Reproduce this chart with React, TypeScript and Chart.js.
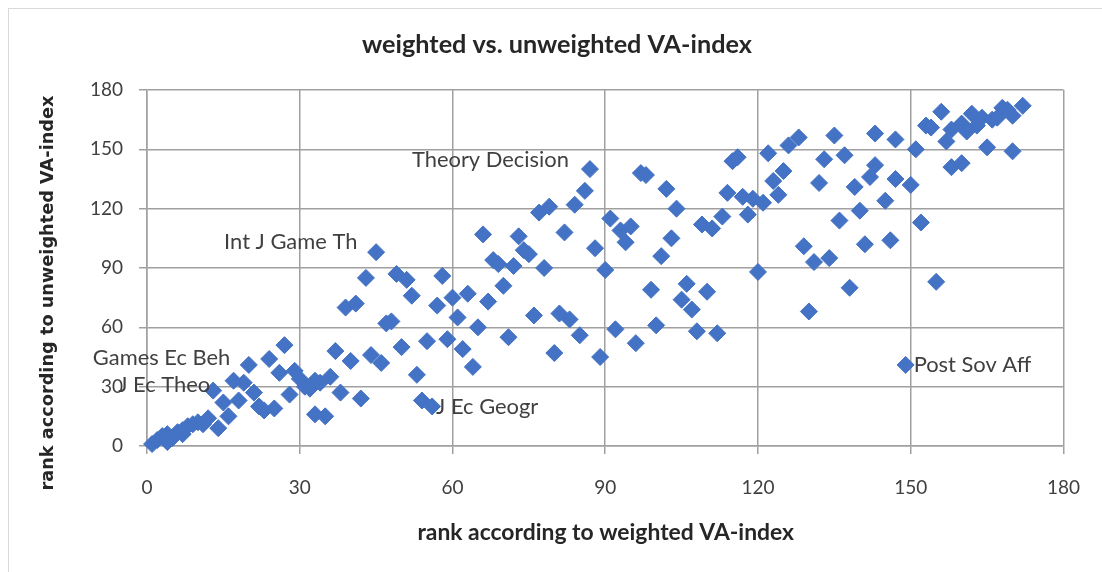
import React, { useEffect, useRef } from "react";
import { Chart, registerables } from "chart.js";

Chart.register(...registerables);

// rank according to weighted VA-index (x) and unweighted VA-index (y)
const weightedRank: number[] = [
  1, 2, 3, 4, 4, 5, 6, 7, 7, 8, 9, 10, 11, 12, 13, 14, 15, 16, 17, 18,
  19, 20, 21, 22, 23, 24, 25, 26, 27, 28, 29, 30, 31, 32, 33, 33, 34, 35, 36, 37,
  38, 39, 40, 41, 42, 43, 44, 45, 46, 47, 48, 49, 50, 51, 52, 53, 54, 55, 56, 57,
  58, 59, 60, 61, 62, 63, 64, 65, 66, 67, 68, 69, 70, 71, 72, 73, 74, 75, 76, 77,
  78, 79, 80, 81, 82, 83, 84, 85, 86, 87, 88, 89, 90, 91, 92, 93, 94, 95, 96, 97,
  98, 99, 100, 101, 102, 103, 104, 105, 106, 107, 108, 109, 110, 111, 112, 113, 114, 115, 116, 117,
  118, 119, 120, 121, 122, 123, 124, 125, 126, 128, 129, 130, 131, 132, 133, 134, 135, 136, 137, 138,
  139, 140, 141, 142, 143, 143, 145, 146, 147, 147, 149, 150, 151, 152, 153, 154, 155, 156, 157, 158,
  158, 160, 160, 161, 162, 163, 164, 165, 166, 167, 168, 169, 170, 170, 172,
];
const unweightedRank: number[] = [
  1, 3, 5, 2, 6, 4, 7, 6, 8, 10, 11, 12, 11, 14, 28, 9, 22, 15, 33, 23,
  32, 41, 27, 20, 18, 44, 19, 37, 51, 26, 38, 34, 30, 29, 16, 33, 32, 15, 35, 48,
  27, 70, 43, 72, 24, 85, 46, 98, 42, 62, 63, 87, 50, 84, 76, 36, 23, 53, 20, 71,
  86, 54, 75, 65, 49, 77, 40, 60, 107, 73, 94, 92, 81, 55, 91, 106, 99, 97, 66, 118,
  90, 121, 47, 67, 108, 64, 122, 56, 129, 140, 100, 45, 89, 115, 59, 109, 103, 111, 52, 138,
  137, 79, 61, 96, 130, 105, 120, 74, 82, 69, 58, 112, 78, 110, 57, 116, 128, 144, 146, 126,
  117, 125, 88, 123, 148, 134, 127, 139, 152, 156, 101, 68, 93, 133, 145, 95, 157, 114, 147, 80,
  131, 119, 102, 136, 142, 158, 124, 104, 135, 155, 41, 132, 150, 113, 162, 161, 83, 169, 154, 141,
  160, 143, 163, 159, 168, 162, 166, 151, 165, 166, 171, 170, 149, 167, 172,
];

const axisTicks: number[] = [0, 30, 60, 90, 120, 150, 180];

const titleText = "weighted vs. unweighted VA-index";
const xTitleText = "rank according to weighted VA-index";
const yTitleText = "rank according to unweighted VA-index";

// annotated journals: label text and the point (x, y) it belongs to
const labelTexts: string[] = ["Theory Decision", "Int J Game Th", "Games Ec Beh", "J Ec Theo", "J Ec Geogr", "Post Sov Aff"];
const labelPointX: number[] = [87, 45, 20, 13, 56, 149];
const labelPointY: number[] = [140, 98, 41, 28, 20, 41];

const BLUE = "#4472C4";
const GRID = "#a0a0a0";
const LABEL_FONT = "Lato, 'Open Sans', sans-serif";

function fitSize(ctx: CanvasRenderingContext2D, text: string, weight: string, family: string, target: number) {
  ctx.font = `${weight} 100px ${family}`;
  const w = ctx.measureText(text).width;
  return (100 * target) / w;
}

const textPlugin = {
  id: "textPlugin",
  beforeDraw(chart: any) {
    const ctx = chart.ctx as CanvasRenderingContext2D;
    ctx.save();
    ctx.fillStyle = "#ffffff";
    ctx.fillRect(0, 0, chart.width, chart.height);
    ctx.strokeStyle = "#d9d9d9";
    ctx.lineWidth = 1;
    ctx.strokeRect(8.5, 8.5, chart.width + 20, chart.height + 20);
    ctx.restore();
  },
  afterDatasetsDraw(chart: any) {
    const ctx = chart.ctx as CanvasRenderingContext2D;
    const xs = chart.scales.x;
    const ys = chart.scales.y;
    // pixel offsets of each label's left edge from its point
    const offsets = [
      { dx: -178, dy: -9 },
      { dx: -152, dy: -10 },
      { dx: -156, dy: -7 },
      { dx: -95, dy: -6 },
      { dx: 4, dy: 0 },
      { dx: 8, dy: 0 },
    ];
    ctx.save();
    const size = fitSize(ctx, labelTexts[0], "normal", LABEL_FONT, 157);
    ctx.fillStyle = "#404040";
    ctx.font = `${size}px ${LABEL_FONT}`;
    ctx.textBaseline = "middle";
    ctx.textAlign = "left";
    labelTexts.forEach((t, i) => {
      const px = xs.getPixelForValue(labelPointX[i]) + offsets[i].dx;
      const py = ys.getPixelForValue(labelPointY[i]) + offsets[i].dy;
      ctx.fillText(t, px, py);
    });
    ctx.restore();
  },
  afterDraw(chart: any) {
    const ctx = chart.ctx as CanvasRenderingContext2D;
    const area = chart.chartArea;
    ctx.save();
    ctx.fillStyle = "#262626";
    ctx.textAlign = "center";
    ctx.textBaseline = "middle";
    // title
    let s = fitSize(ctx, titleText, "bold", LABEL_FONT, 390);
    ctx.font = `bold ${s}px ${LABEL_FONT}`;
    ctx.fillText(titleText, 557, 45);
    // x axis title
    s = fitSize(ctx, xTitleText, "bold", LABEL_FONT, 377);
    ctx.font = `bold ${s}px ${LABEL_FONT}`;
    ctx.fillText(xTitleText, (area.left + area.right) / 2 + 0.5, 533);
    // y axis title
    const yf = "'DejaVu Sans', sans-serif";
    s = fitSize(ctx, yTitleText, "bold", yf, 395);
    ctx.font = `bold ${s}px ${yf}`;
    ctx.translate(48, 293);
    ctx.rotate(-Math.PI / 2);
    ctx.fillText(yTitleText, 0, 0);
    ctx.restore();
  },
};

export default function App() {
  const ref = useRef<HTMLCanvasElement | null>(null);
  useEffect(() => {
    if (!ref.current) return;
    const points = weightedRank.map((x, i) => ({ x, y: unweightedRank[i] }));
    const tickFont = { family: LABEL_FONT, size: 19 };
    const chart = new Chart(ref.current, {
      type: "scatter",
      data: {
        datasets: [
          {
            data: points,
            pointStyle: "rectRot",
            pointRadius: 8.5,
            pointBackgroundColor: BLUE,
            pointBorderColor: BLUE,
            pointBorderWidth: 1,
            clip: false as any,
          },
        ],
      },
      options: {
        animation: false,
        responsive: false,
        events: [],
        layout: { autoPadding: false, padding: { left: 0, right: 36, top: 90, bottom: 0 } },
        plugins: { legend: { display: false }, tooltip: { enabled: false }, title: { display: false } },
        scales: {
          x: {
            type: "linear",
            min: 0,
            max: 180,
            afterFit: (s: any) => {
              s.height = 126;
            },
            afterBuildTicks: (s: any) => {
              s.ticks = axisTicks.map((v) => ({ value: v }));
            },
            ticks: { color: "#404040", font: tickFont, padding: 22, maxRotation: 0 },
            grid: { color: GRID, lineWidth: 1.5, tickLength: 8 },
            border: { color: GRID, width: 1.5 },
          },
          y: {
            type: "linear",
            min: 0,
            max: 180,
            afterFit: (s: any) => {
              s.width = 147;
            },
            afterBuildTicks: (s: any) => {
              s.ticks = axisTicks.map((v) => ({ value: v }));
            },
            ticks: { color: "#404040", font: tickFont, padding: 16 },
            grid: { color: GRID, lineWidth: 1.5, tickLength: 8 },
            border: { color: GRID, width: 1.5 },
          },
        },
      },
      plugins: [textPlugin],
    });
    return () => chart.destroy();
  }, []);
  return (
    <div style={{ position: "fixed", left: 0, top: 0, width: 1102, height: 572 }}>
      <canvas ref={ref} width={1102} height={572} />
    </div>
  );
}
